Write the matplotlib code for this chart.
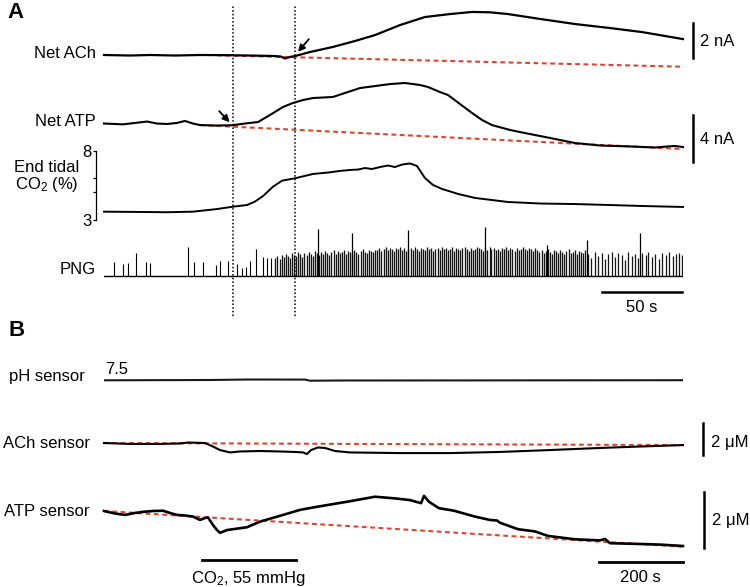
import matplotlib
matplotlib.use('Agg')
import matplotlib.pyplot as plt
import numpy as np

plt.rcParams['font.family'] = ['Liberation Sans', 'DejaVu Sans']
plt.rcParams['mathtext.fontset'] = 'custom'
plt.rcParams['mathtext.rm'] = 'Liberation Sans'
plt.rcParams['mathtext.it'] = 'Liberation Sans:italic'
plt.rcParams['mathtext.default'] = 'regular'

# ---------------- Panel A data (time in s) ----------------
A_T_END = 361.9
net_ach_t = [0.0, 16.3, 28.8, 44.4, 60.0, 75.6, 91.3, 106.9, 110.6, 113.1, 116.3, 119.4,
             128.8, 143.1, 156.9, 169.4, 185.0, 200.6, 216.3, 230.0, 241.3, 252.5, 272.5,
             294.4, 316.3, 336.3, 361.9]
net_ach_v = [0.00, -0.03, 0.00, -0.03, 0.00, -0.01, -0.03, -0.06, -0.09, -0.20, -0.11, -0.06,
             0.17, 0.46, 0.80, 1.14, 1.71, 2.17, 2.34, 2.46, 2.44, 2.34, 2.06,
             1.77, 1.54, 1.31, 0.91]
net_ach_base_t = [70.6, 361.9]
net_ach_base_v = [-0.02, -0.67]

net_atp_t = [0.0, 6.9, 11.9, 19.4, 26.9, 33.1, 39.4, 45.6, 50.6, 55.6, 60.0, 69.4, 80.0,
             88.1, 96.3, 103.8, 111.9, 118.1, 124.4, 130.6, 143.1, 150.6, 160.0, 169.4,
             178.8, 188.1, 197.5, 202.5, 210.0, 215.0, 222.5, 230.0, 236.3, 242.5, 253.8,
             263.1, 278.8, 294.4, 310.0, 328.8, 344.4, 352.5, 356.9, 361.9]
net_atp_v = [0.04, 0.00, -0.03, 0.09, 0.21, 0.04, 0.00, 0.09, 0.26, 0.04, -0.09, -0.13, -0.11,
             0.04, 0.17, 0.77, 1.45, 1.79, 2.04, 2.21, 2.30, 2.64, 3.06, 3.23,
             3.40, 3.49, 3.32, 3.15, 2.72, 2.47, 1.70, 0.94, 0.34, -0.09, -0.51,
             -0.77, -1.19, -1.62, -1.83, -1.91, -2.00, -1.91, -1.87, -1.96]
net_atp_base_t = [60.0, 361.9]
net_atp_base_v = [-0.09, -2.13]

co2_t = [0.0, 22.5, 39.4, 55.6, 70.6, 80.6, 89.4, 94.4, 99.4, 105.6, 111.3, 119.4, 130.6,
         141.3, 147.5, 153.8, 158.8, 163.1, 167.5, 172.5, 177.5, 181.9, 186.3, 191.3,
         195.6, 200.6, 205.6, 211.3, 221.3, 231.9, 252.5, 272.5, 294.4, 316.3, 336.3, 361.9]
co2_v = [3.60, 3.58, 3.56, 3.60, 3.79, 3.96, 4.08, 4.33, 4.73, 5.40, 5.84, 6.01, 6.32,
         6.44, 6.54, 6.61, 6.64, 6.75, 6.68, 6.82, 6.93, 6.82, 7.00, 7.08,
         6.90, 6.03, 5.53, 5.24, 4.88, 4.59, 4.30, 4.19, 4.15, 4.08, 4.01, 3.94]
co2_ticks = [3, 8]
co2_minor_ticks = [5, 6]

# PNG bursts: time (s) and amplitude (arbitrary units)
png_sparse_t = [6.4, 11.7, 15.2, 20.2, 26.0, 28.8, 52.3, 56.4, 61.7, 70.0, 72.5, 77.7,
                83.3, 86.1, 88.8, 91.3, 95.0, 99.6, 101.7, 104.2]
png_sparse_a = [13.7, 12.0, 13.3, 22.7, 14.0, 13.3, 29.3, 13.7, 13.7, 11.0, 15.0, 15.3,
                12.0, 7.7, 8.7, 15.0, 27.0, 19.3, 17.7, 17.7]
png_dense1_t = [107.0, 108.4, 109.7, 111.0, 112.2, 113.6, 114.9, 116.1, 117.5, 118.8, 120.0,
                121.4, 122.7, 124.0, 125.2, 126.6, 127.9, 129.1, 130.5, 131.8, 133.0, 134.4,
                135.7, 137.0, 138.2, 139.6, 140.9, 142.1, 143.5, 144.8, 146.0, 147.4, 148.7,
                150.0, 151.2, 152.6, 153.9, 155.1, 156.5, 157.8, 159.0, 160.4, 161.7, 163.0,
                164.2, 165.6, 166.9, 168.1, 169.5]
png_dense1_a = [18, 20, 17, 21, 19, 22, 20, 18, 23, 21, 20, 24, 22, 19, 23, 21, 24, 22, 20, 25,
                23, 21, 24, 22, 25, 23, 21, 24, 26, 22, 25, 23, 24, 26, 22, 25, 24, 23, 26, 24,
                22, 25, 27, 24, 23, 26, 25, 24, 26]
png_dense2_t = [170.8, 172.0, 173.4, 174.7, 176.0, 177.2, 178.6, 179.9, 181.1, 182.5, 183.8,
                185.0, 186.4, 187.7, 189.0, 190.2, 191.6, 192.9, 194.1, 195.5, 196.8, 198.0,
                199.4, 200.7, 202.0, 203.2, 204.6, 205.9, 207.1, 208.5, 209.8, 211.0, 212.4,
                213.7, 215.0, 216.2, 217.6, 218.9, 220.1, 221.5, 222.8, 224.0, 225.4, 226.7,
                228.0, 229.2, 230.6, 231.9, 233.1, 234.5, 235.8, 237.0, 238.4, 239.7, 241.0,
                242.2, 243.6, 244.9, 246.1, 247.5, 248.8, 250.0, 251.4, 252.7, 254.0, 255.2,
                256.6, 257.9, 259.1, 260.5, 261.8, 263.0, 264.4, 265.7, 267.0, 268.2, 269.6,
                270.9]
png_dense2_a = [26, 28, 25, 27, 29, 26, 28, 27, 25, 28, 27, 29, 26, 28, 25, 27, 28, 26, 29, 27,
                25, 28, 27, 26, 29, 27, 28, 25, 27, 28, 26, 29, 27, 28, 26, 27, 29, 25, 28, 27,
                26, 28, 29, 27, 25, 28, 26, 27, 29, 28, 27, 25, 28, 26, 29, 27, 28, 26, 27, 25,
                28, 27, 29, 26, 28, 27, 25, 28, 26, 27, 29, 27, 26, 28, 27, 25, 28, 26]
png_dense3_t = [272.1, 273.5, 274.8, 276.0, 277.4, 278.7, 280.0, 281.2, 282.6, 283.9, 285.1,
                286.5, 287.8, 289.0, 290.4, 291.7, 293.0, 294.2, 295.6, 296.9, 298.1, 299.5,
                300.8]
png_dense3_a = [24, 26, 23, 25, 27, 24, 22, 26, 25, 23, 26, 24, 22, 25, 27, 23, 24, 26, 22, 25,
                24, 23, 26]
png_late_t = [302.5, 304.6, 306.9, 308.8, 311.0, 313.3, 315.2, 317.5, 319.6, 321.4, 323.8,
              325.9, 327.8, 330.1, 332.2, 334.0, 336.4, 338.5, 340.3, 342.7, 344.6, 346.9,
              349.0, 351.1, 353.2, 355.4, 357.3, 359.5, 361.4]
png_late_a = [22, 18, 24, 20, 23, 17, 22, 24, 19, 23, 21, 16, 24, 20, 22, 18, 23, 21, 24, 19,
              22, 17, 23, 21, 24, 20, 22, 23, 21]
png_tall_t = [133.8, 155.0, 190.0, 238.1, 276.9, 301.9, 335.0]
png_tall_a = [47.0, 43.0, 46.0, 49.0, 31.0, 36.0, 43.0]

event_t = [80.6, 119.4]          # dotted lines
scale_A_time = [311.25, 361.25]  # 50 s

# ---------------- Panel B data (time in s) ----------------
B_T_END = 1378.6
ph_t = [0.0, 252.0, 347.6, 478.6, 490.5, 561.9, 900.0, 1378.6]
ph_v = [7.4997, 7.5000, 7.5005, 7.5004, 7.4993, 7.4995, 7.4996, 7.4998]

ach_s_t = [0.0, 61.9, 133.3, 181.0, 200.0, 240.5, 257.1, 276.2, 300.0, 323.8, 371.4, 419.0,
           454.8, 473.8, 483.3, 492.9, 509.5, 526.2, 550.0, 585.7, 704.8, 823.8, 942.9,
           1061.9, 1181.0, 1276.2, 1378.6]
ach_s_v = [0.00, -0.06, -0.06, -0.03, 0.03, 0.00, -0.19, -0.44, -0.59, -0.53, -0.50, -0.53,
           -0.56, -0.59, -0.69, -0.44, -0.28, -0.31, -0.50, -0.59, -0.63, -0.63, -0.56,
           -0.44, -0.31, -0.22, -0.13]
ach_s_base_t = [0.0, 1378.6]
ach_s_base_v = [0.0, -0.13]

atp_s_t = [0.0, 26.2, 50.0, 73.8, 92.9, 116.7, 140.5, 157.1, 173.8, 192.9, 211.9, 228.6,
           240.5, 247.6, 259.5, 269.0, 276.2, 292.9, 340.5, 371.4, 426.2, 466.7, 507.1,
           578.6, 645.2, 692.9, 728.6, 754.8, 761.9, 773.8, 797.6, 833.3, 883.3, 919.0,
           935.7, 942.9, 985.7, 1026.2, 1057.1, 1121.4, 1181.0, 1192.9, 1204.8, 1281.0,
           1323.8, 1378.6]
atp_s_v = [0.00, -0.09, -0.14, -0.07, -0.03, 0.00, 0.01, -0.07, -0.14, -0.16, -0.20, -0.32,
           -0.25, -0.23, -0.50, -0.68, -0.78, -0.68, -0.58, -0.38, -0.14, 0.04, 0.15,
           0.33, 0.51, 0.45, 0.39, 0.28, 0.54, 0.33, 0.10, 0.01, -0.20, -0.32,
           -0.34, -0.42, -0.65, -0.73, -0.89, -1.01, -1.05, -1.00, -1.15, -1.18,
           -1.20, -1.25]
atp_s_base_t = [0.0, 1378.6]
atp_s_base_v = [0.0, -1.275]

co2_stim_t = [233.3, 457.1]       # CO2, 55 mmHg
scale_B_time = [1178.6, 1378.6]   # 200 s

# ---------------- Layout helpers ----------------
W, H = 750, 587
fig = plt.figure(figsize=(W / 100, H / 100), dpi=100)
RED = '#e2412c'
X0, X1 = 104, 683


def axes_px(top, bottom, xlim, ylim, left=X0, right=X1):
    ax = fig.add_axes([left / W, 1 - bottom / H, (right - left) / W, (bottom - top) / H])
    ax.set_xlim(*xlim)
    ax.set_ylim(*ylim)
    ax.set_axis_off()
    ax.patch.set_alpha(0)
    return ax


def ftext(x, y, s, **kw):
    kw.setdefault('fontsize', 12)
    kw.setdefault('va', 'center')
    fig.text(x / W, 1 - y / H, s, **kw)


dash = dict(color=RED, lw=1.5, linestyle=(0, (2.3, 1.7)), clip_on=False)

# Net ACh
ax1 = axes_px(0, 75, (0, A_T_END), (-1.143, 3.143))
ax1.plot(net_ach_base_t, net_ach_base_v, **dash)
ax1.plot(net_ach_t, net_ach_v, color='k', lw=1.6, clip_on=False, solid_joinstyle='round')
ax1.plot([368.1, 368.1], [-0.171, 1.829], color='k', lw=1.8, clip_on=False)
ax1.annotate('', xy=(121.3, 0.18), xytext=(128.0, 0.9),
             arrowprops=dict(arrowstyle='-|>', color='k', lw=1.3, mutation_scale=10,
                             shrinkA=0, shrinkB=0))

# Net ATP
ax2 = axes_px(70, 170, (0, A_T_END), (-3.915, 4.596))
ax2.plot(net_atp_base_t, net_atp_base_v, **dash)
ax2.plot(net_atp_t, net_atp_v, color='k', lw=1.5, clip_on=False, solid_joinstyle='round')
ax2.plot([368.1, 368.1], [-3.23, 0.77], color='k', lw=1.8, clip_on=False)
ax2.annotate('', xy=(78.5, 0.15), xytext=(72.0, 1.1),
             arrowprops=dict(arrowstyle='-|>', color='k', lw=1.3, mutation_scale=10,
                             shrinkA=0, shrinkB=0))

# End tidal CO2
ax3 = fig.add_axes([X0 / W, 1 - 230 / H, (X1 - X0) / W, 90 / H])
ax3.patch.set_alpha(0)
ax3.set_xlim(0, A_T_END)
ax3.set_ylim(2.278, 8.772)
for s in ['top', 'right', 'bottom']:
    ax3.spines[s].set_visible(False)
ax3.xaxis.set_visible(False)
ax3.spines['left'].set_position(('data', -5))
ax3.spines['left'].set_bounds(3, 8)
ax3.spines['left'].set_linewidth(0.9)
ax3.set_yticks(co2_ticks)
ax3.set_yticks(co2_minor_ticks, minor=True)
ax3.tick_params(axis='y', which='both', direction='out', length=2.5, width=0.9, labelsize=12, pad=1)
ax3.plot(co2_t, co2_v, color='k', lw=1.4, clip_on=False)

# PNG
ax4 = axes_px(215, 315, (0, A_T_END), (-39, 61))
ax4.plot([0, A_T_END], [0, 0], color='k', lw=1.0)
ax4.vlines(png_sparse_t, 0, png_sparse_a, color='k', lw=0.8)
ax4.vlines(png_dense1_t, 0, png_dense1_a, color='#151515', lw=0.95)
ax4.vlines(png_dense2_t, 0, png_dense2_a, color='#151515', lw=0.95)
ax4.vlines(png_dense3_t, 0, png_dense3_a, color='#151515', lw=0.95)
ax4.vlines(png_late_t, 0, png_late_a, color='#151515', lw=0.9)
ax4.vlines(png_tall_t, 0, png_tall_a, color='k', lw=0.9)
ax4.plot(scale_A_time, [-16, -16], color='k', lw=1.8, clip_on=False)

# dotted event lines over panel A
axA = axes_px(0, 320, (0, A_T_END), (0, 1))
for t in event_t:
    axA.axvline(t, ymin=0.0125, ymax=0.984, color='k', lw=1.1, linestyle=(0, (1, 1.4)))

# pH sensor
ax5 = axes_px(350, 400, (0, B_T_END), (7.48, 7.53))
ax5.plot(ph_t, ph_v, color='#1a1a1a', lw=1.5)

# ACh sensor
ax6 = axes_px(415, 470, (0, B_T_END), (-1.6875, 1.75))
ax6.plot(ach_s_base_t, ach_s_base_v, **dash)
ax6.plot(ach_s_t, ach_s_v, color='k', lw=1.5, clip_on=False)
ax6.plot([1426.2, 1426.2], [-0.75, 1.25], color='k', lw=1.8, clip_on=False)

# ATP sensor
ax7 = axes_px(480, 570, (0, B_T_END), (-2.107, 1.107))
ax7.plot(atp_s_base_t, atp_s_base_v, **dash)
ax7.plot(atp_s_t, atp_s_v, color='k', lw=1.9, clip_on=False)
ax7.plot([1428.6, 1428.6], [-1.321, 0.679], color='k', lw=1.8, clip_on=False)
ax7.plot(co2_stim_t, [-1.75, -1.75], color='k', lw=2.0, clip_on=False)
ax7.plot(scale_B_time, [-1.82, -1.82], color='k', lw=2.0, clip_on=False)

# ---------------- Text ----------------
ftext(7, 12, 'A', fontsize=16, fontweight='bold', ha='left')
ftext(96, 54, 'Net ACh', ha='right')
ftext(96, 122, 'Net ATP', ha='right')
ftext(47, 167, 'End tidal', ha='center')
ftext(47, 185, 'CO$_2$ (%)', ha='center')
ftext(96, 270, 'PNG', ha='right')
ftext(700, 42, '2 nA', ha='left')
ftext(700, 140, '4 nA', ha='left')
ftext(642, 308, '50 s', ha='center')

ftext(8, 330, 'B', fontsize=16, fontweight='bold', ha='left')
ftext(85, 377, 'pH sensor', ha='right')
ftext(105, 370, '7.5', ha='left')
ftext(90, 443, 'ACh sensor', ha='right')
ftext(90, 512, 'ATP sensor', ha='right')
ftext(711, 442, '2 μM', ha='left')
ftext(712, 521, '2 μM', ha='left')
ftext(248, 578, 'CO$_2$, 55 mmHg', ha='center')
ftext(640, 578, '200 s', ha='center')

fig.savefig('out.png', dpi=100)
